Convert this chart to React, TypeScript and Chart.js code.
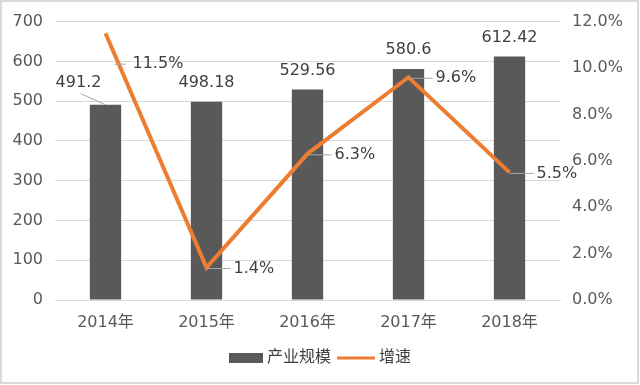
import React, { useEffect, useRef } from "react";
import { Chart, registerables } from "chart.js";

Chart.register(...registerables);

const categories = ["2014年", "2015年", "2016年", "2017年", "2018年"];
const scaleValues = [491.2, 498.18, 529.56, 580.6, 612.42];
const scaleLabels = ["491.2", "498.18", "529.56", "580.6", "612.42"];
const growthValues = [11.5, 1.4, 6.3, 9.6, 5.5];
const growthLabels = ["11.5%", "1.4%", "6.3%", "9.6%", "5.5%"];
const seriesNames = ["产业规模", "增速"];

const BAR_COLOR = "#595959";
const LINE_COLOR = "#ED7D31";
const TEXT_COLOR = "#404040";
const GRID_COLOR = "#D9D9D9";
const FONT_FAMILY = "'DejaVu Sans', 'Noto Sans CJK SC', sans-serif";
const FS = 16;

const labelPlugin = {
  id: "labels",
  afterDatasetsDraw(chart: any) {
    const ctx = chart.ctx;
    ctx.save();
    ctx.font = `${FS}px ${FONT_FAMILY}`;
    ctx.fillStyle = TEXT_COLOR;
    ctx.textBaseline = "middle";
    // bar labels
    const barMeta = chart.getDatasetMeta(1);
    barMeta.data.forEach((el: any, i: number) => {
      let x = el.x;
      let y = el.y - 19;
      if (i === 0) {
        x = el.x - 27;
        y = el.y - 22;
        ctx.strokeStyle = "#A6A6A6";
        ctx.lineWidth = 1;
        ctx.beginPath();
        ctx.moveTo(x + 2, y + 11);
        ctx.lineTo(el.x, el.y);
        ctx.stroke();
      }
      ctx.textAlign = "center";
      ctx.fillStyle = TEXT_COLOR;
      ctx.fillText(scaleLabels[i], x, y);
    });
    // line labels
    const lineMeta = chart.getDatasetMeta(0);
    lineMeta.data.forEach((el: any, i: number) => {
      let y = el.y + 1;
      let lx0 = el.x;
      let lx1 = el.x + 24;
      let tx = el.x + 27;
      if (i === 0) {
        y = el.y + 31;
        lx0 = el.x + 9;
        lx1 = el.x + 20;
      }
      ctx.strokeStyle = "#A6A6A6";
      ctx.lineWidth = 1;
      ctx.beginPath();
      ctx.moveTo(lx0, y);
      ctx.lineTo(lx1, y);
      ctx.stroke();
      ctx.textAlign = "left";
      ctx.fillStyle = TEXT_COLOR;
      ctx.fillText(growthLabels[i], tx, y);
    });
    ctx.restore();
  },
  afterDraw(chart: any) {
    const ctx = chart.ctx;
    ctx.save();
    // legend
    ctx.font = `${FS}px ${FONT_FAMILY}`;
    ctx.textBaseline = "middle";
    ctx.textAlign = "left";
    const ly = 358;
    ctx.fillStyle = BAR_COLOR;
    ctx.fillRect(229, ly - 5, 34, 10);
    ctx.fillStyle = TEXT_COLOR;
    ctx.fillText(seriesNames[0], 267, ly);
    ctx.strokeStyle = LINE_COLOR;
    ctx.lineWidth = 3;
    ctx.beginPath();
    ctx.moveTo(337, ly);
    ctx.lineTo(375, ly);
    ctx.stroke();
    ctx.fillText(seriesNames[1], 379, ly);
    // frame
    ctx.strokeStyle = GRID_COLOR;
    ctx.lineWidth = 2;
    ctx.strokeRect(1, 1, 637, 382);
    ctx.restore();
  },
};

export default function App() {
  const ref = useRef<HTMLCanvasElement | null>(null);
  useEffect(() => {
    if (!ref.current) return;
    const chart = new Chart(ref.current, {
      type: "bar",
      data: {
        labels: categories,
        datasets: [
          {
            type: "line",
            label: seriesNames[1],
            data: growthValues,
            yAxisID: "y1",
            borderColor: LINE_COLOR,
            backgroundColor: LINE_COLOR,
            borderWidth: 4,
            pointRadius: 0,
            tension: 0,
            order: 1,
          } as any,
          {
            type: "bar",
            label: seriesNames[0],
            data: scaleValues,
            yAxisID: "y",
            backgroundColor: BAR_COLOR,
            barPercentage: 0.31,
            categoryPercentage: 1,
            order: 2,
          },
        ],
      },
      options: {
        responsive: false,
        animation: false,
        layout: { padding: { top: 20, bottom: 0, left: 0, right: 0 } },
        plugins: {
          legend: { display: false },
          tooltip: { enabled: false },
        },
        scales: {
          x: {
            grid: { display: false, drawTicks: false },
            border: { display: true, color: GRID_COLOR },
            ticks: {
              color: "#595959",
              font: { family: FONT_FAMILY, size: FS },
              padding: 13,
              maxRotation: 0,
            },
            afterFit(scale: any) {
              scale.height = 85;
            },
          },
          y: {
            position: "left",
            min: 0,
            max: 700,
            grid: { color: GRID_COLOR, drawTicks: false, lineWidth: 1 },
            border: { display: false },
            ticks: {
              stepSize: 100,
              color: "#595959",
              font: { family: FONT_FAMILY, size: FS },
              padding: 12,
            },
            afterFit(scale: any) {
              scale.width = 55;
            },
          },
          y1: {
            position: "right",
            min: 0,
            max: 12,
            grid: { display: false, drawTicks: false },
            border: { display: false },
            ticks: {
              stepSize: 2,
              color: "#595959",
              font: { family: FONT_FAMILY, size: FS },
              padding: 12,
              callback: (v: any) => Number(v).toFixed(1) + "%",
            },
            afterFit(scale: any) {
              scale.width = 80;
            },
          },
        },
      },
      plugins: [labelPlugin],
    });
    return () => chart.destroy();
  }, []);
  return (
    <div style={{ position: "fixed", left: 0, top: 0, width: 640, height: 385, background: "#fff" }}>
      <canvas ref={ref} width={640} height={385} style={{ display: "block" }} />
    </div>
  );
}
